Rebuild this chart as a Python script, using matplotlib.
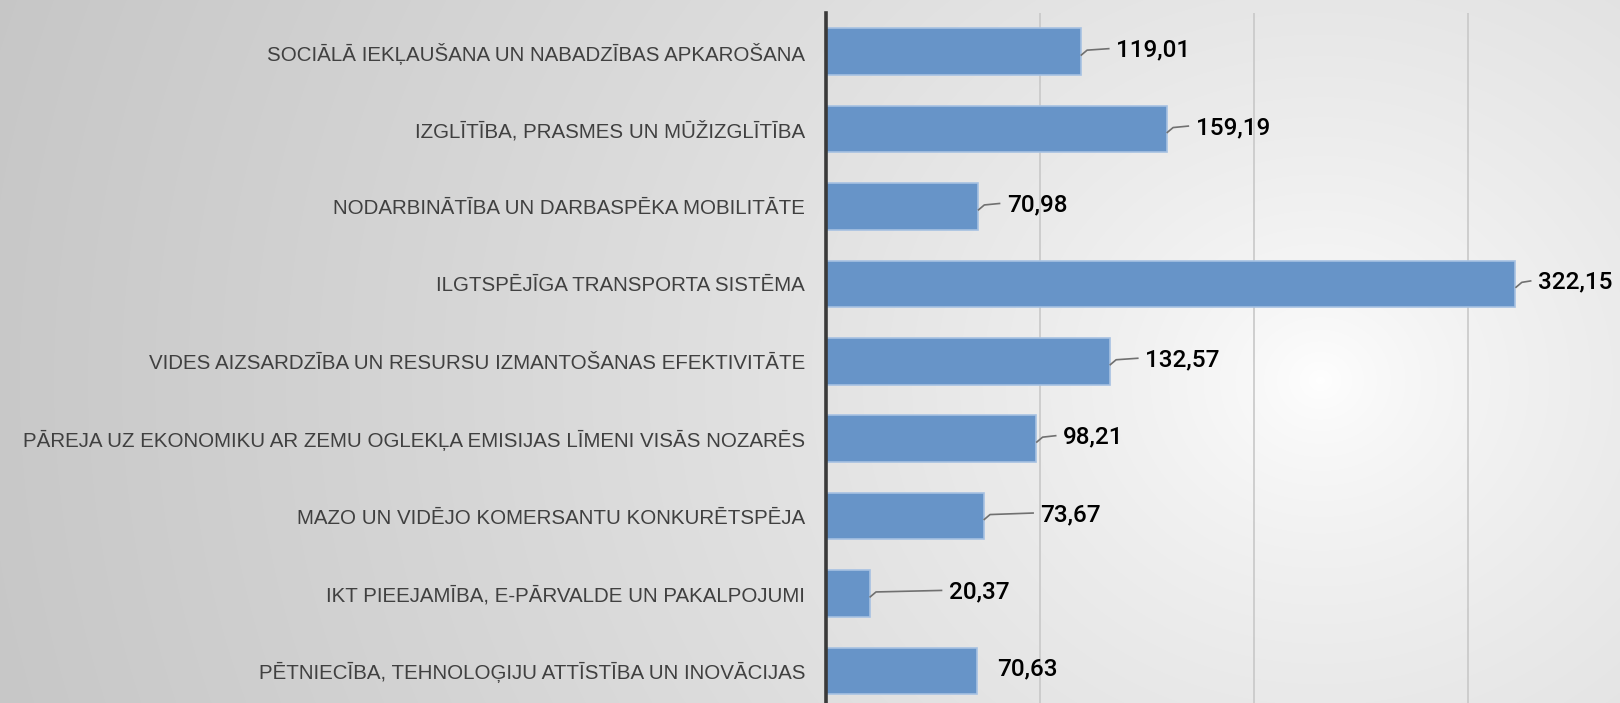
import numpy as np
import matplotlib
matplotlib.use("Agg")
import matplotlib.pyplot as plt

categories = [
    "SOCIĀLĀ IEKĻAUŠANA UN NABADZĪBAS APKAROŠANA",
    "IZGLĪTĪBA, PRASMES UN MŪŽIZGLĪTĪBA",
    "NODARBINĀTĪBA UN DARBASPĒKA MOBILITĀTE",
    "ILGTSPĒJĪGA TRANSPORTA SISTĒMA",
    "VIDES AIZSARDZĪBA UN RESURSU IZMANTOŠANAS EFEKTIVITĀTE",
    "PĀREJA UZ EKONOMIKU AR ZEMU OGLEKĻA EMISIJAS LĪMENI VISĀS NOZARĒS",
    "MAZO UN VIDĒJO KOMERSANTU KONKURĒTSPĒJA",
    "IKT PIEEJAMĪBA, E-PĀRVALDE UN PAKALPOJUMI",
    "PĒTNIECĪBA, TEHNOLOĢIJU ATTĪSTĪBA UN INOVĀCIJAS",
]
values = [119.01, 159.19, 70.98, 322.15, 132.57, 98.21, 73.67, 20.37, 70.63]
value_labels = ["119,01", "159,19", "70,98", "322,15", "132,57", "98,21", "73,67", "20,37", "70,63"]
grid_ticks = [100, 200, 300]

# label offsets (in data units) from bar end, and whether a leader line is drawn
label_offsets = [16.5, 13.5, 13.5, 10.5, 16.5, 12.5, 26.5, 37, 9.5]
leader = [True, True, True, True, True, True, True, True, False]

W, H = 1620, 703
fig = plt.figure(figsize=(W / 100, H / 100), dpi=100)

# radial gradient background
bg = fig.add_axes([0, 0, 1, 1], zorder=-10)
yy, xx = np.mgrid[0:H, 0:W]
r = np.sqrt(((xx - 1320) / 1.0) ** 2 + ((yy - 380) / 0.9) ** 2)
v = 255 - 56 * np.clip(r / 1370, 0, 1.2) ** 0.7
img = np.clip(v, 0, 255) / 255.0
bg.imshow(np.dstack([img, img, img]), aspect="auto", extent=[0, 1, 0, 1])
bg.set_axis_off()

left = 826 / W
top = 1 - 13 / H
unit_px = 77.4
height = 9 * unit_px / H
xmax = (W - 826) / 2.14
ax = fig.add_axes([left, top - height, 1 - left, height])
ax.patch.set_alpha(0)

y = np.arange(len(categories))
ax.barh(y, values, height=0.6, color="#6794C8", edgecolor="#A6C1E2", linewidth=1.2, zorder=3)
ax.set_xlim(0, xmax)
ax.set_ylim(len(categories) - 0.5, -0.5)
ax.set_yticks(y)
ax.set_yticklabels(categories, fontsize=14.8, color="#404040",
                   family=["Liberation Sans Narrow", "Liberation Sans", "DejaVu Sans"])
ax.tick_params(axis="y", length=0, pad=15)
ax.set_xticks(grid_ticks)
ax.tick_params(axis="x", length=0, labelbottom=False)
ax.grid(axis="x", color="#C8C8C8", linewidth=1.2, zorder=0)
for s in ["top", "right", "bottom"]:
    ax.spines[s].set_visible(False)
ax.spines["left"].set_color("#3A3A3A")
ax.spines["left"].set_linewidth(2.6)
ax.spines["left"].set_zorder(5)

for i, (val, lab, off, ld) in enumerate(zip(values, value_labels, label_offsets, leader)):
    tx = val + off
    ax.text(tx, i - 0.02, lab, ha="left", va="center", fontsize=17.5,
            family=["Roboto", "DejaVu Sans"], fontweight="medium", color="#000000", zorder=6)
    if ld:
        ax.plot([val, val + 3, tx - 3], [i + 0.05, i - 0.02, i - 0.04], color="#707070",
                linewidth=1.2, zorder=4, solid_capstyle="butt")

fig.savefig("out.png", dpi=100)
